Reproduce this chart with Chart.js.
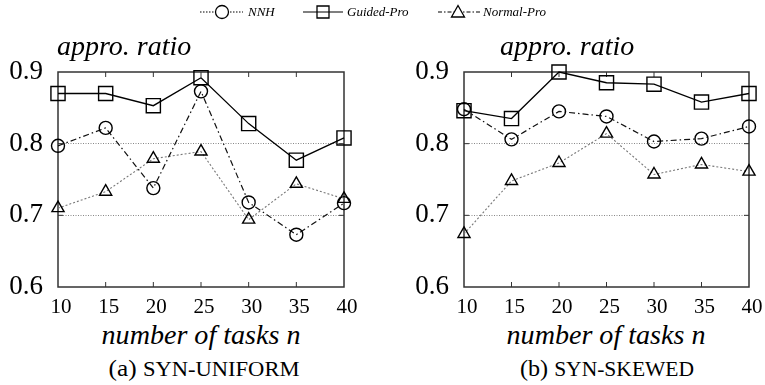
<!DOCTYPE html>
<html>
<head>
<meta charset="utf-8">
<script src="https://cdn.jsdelivr.net/npm/chart.js@4/dist/chart.umd.min.js"></script>
<style>
  body { margin: 0; background: #fff; }
  #wrap { position: relative; width: 765px; height: 385px; overflow: hidden; font-family: "Liberation Serif", "Times New Roman", "DejaVu Serif", serif; color: #000; }
  canvas { position: absolute; }
  .txt { position: absolute; white-space: nowrap; }
  .ytitle { font-style: italic; font-size: 28px; line-height: 28px; top: 32px; }
  .xtitle { font-style: italic; font-size: 27px; line-height: 27px; top: 322px; width: 300px; text-align: center; transform: scaleX(1.04); }
  .cap { font-size: 23px; line-height: 23px; top: 357px; width: 300px; text-align: center; transform: scaleX(1.1); }
  .cap span { font-size: 20.5px; }
</style>
</head>
<body>
<div id="wrap">
  <canvas id="legend" width="765" height="26" style="left:0;top:0"></canvas>
  <canvas id="chartA" width="382" height="320" style="left:0;top:0"></canvas>
  <canvas id="chartB" width="382" height="320" style="left:406px;top:0"></canvas>
  <div class="txt ytitle" style="left:57px">appro. ratio</div>
  <div class="txt ytitle" style="left:500px">appro. ratio</div>
  <div class="txt xtitle" style="left:51px">number of tasks <i>n</i></div>
  <div class="txt xtitle" style="left:456px">number of tasks <i>n</i></div>
  <div class="txt cap" style="left:54px">(a) <span>SYN-UNIFORM</span></div>
  <div class="txt cap" style="left:457px; transform: scaleX(1.05)">(b) <span>SYN-SKEWED</span></div>
</div>
<script>
// number of tasks n
var tasks = [10, 15, 20, 25, 30, 35, 40];
var seriesNames = ['NNH', 'Guided-Pro', 'Normal-Pro'];

// (a) SYN-UNIFORM
var uniformNNH    = [0.797, 0.822, 0.738, 0.873, 0.718, 0.673, 0.717];
var uniformGuided = [0.870, 0.870, 0.853, 0.892, 0.828, 0.777, 0.808];
var uniformNormal = [0.710, 0.733, 0.779, 0.789, 0.694, 0.744, 0.723];

// (b) SYN-SKEWED
var skewedNNH    = [0.848, 0.806, 0.845, 0.838, 0.803, 0.807, 0.824];
var skewedGuided = [0.846, 0.835, 0.900, 0.885, 0.883, 0.858, 0.870];
var skewedNormal = [0.674, 0.748, 0.773, 0.814, 0.757, 0.771, 0.761];

var yTicks = [0.6, 0.7, 0.8, 0.9];
var gridAt = [0.7, 0.8];

var serif = '"Liberation Serif", "Times New Roman", "DejaVu Serif", serif';

// box round the plot and the small inward tick marks
var framePlugin = {
  id: 'frame',
  beforeDatasetsDraw: function(chart) {
    var ctx = chart.ctx, a = chart.chartArea;
    var xs = chart.scales.x, ys = chart.scales.y;
    ctx.save();
    ctx.strokeStyle = '#333';
    ctx.lineWidth = 1.5;
    ctx.setLineDash([]);
    ctx.strokeRect(a.left, a.top, a.right - a.left, a.bottom - a.top);
    ctx.lineWidth = 1;
    ctx.beginPath();
    for (var i = 1; i < tasks.length - 1; i++) {
      var px = xs.getPixelForValue(i);
      ctx.moveTo(px, a.bottom); ctx.lineTo(px, a.bottom - 5);
      ctx.moveTo(px, a.top); ctx.lineTo(px, a.top + 5);
    }
    for (var j = 0; j < gridAt.length; j++) {
      var py = ys.getPixelForValue(gridAt[j]);
      ctx.moveTo(a.left, py); ctx.lineTo(a.left + 5, py);
      ctx.moveTo(a.right, py); ctx.lineTo(a.right - 5, py);
    }
    ctx.stroke();
    ctx.restore();
  }
};

function makeChart(id, nnh, guided, normal, padRight) {
  var ctx = document.getElementById(id).getContext('2d');
  return new Chart(ctx, {
    type: 'line',
    data: {
      labels: tasks.map(String),
      datasets: [{
        label: seriesNames[0],
        data: nnh,
        borderColor: '#111',
        borderWidth: 1.2,
        borderDash: [6, 3, 1.5, 3],
        pointStyle: 'circle',
        pointRadius: 6.5,
        pointBorderWidth: 1.4,
        pointBorderColor: '#000',
        pointBackgroundColor: 'rgba(0,0,0,0)',
        clip: false
      }, {
        label: seriesNames[1],
        data: guided,
        borderColor: '#000',
        borderWidth: 1.3,
        pointStyle: 'rect',
        pointRadius: 10,
        pointBorderWidth: 1.4,
        pointBorderColor: '#000',
        pointBackgroundColor: 'rgba(0,0,0,0)',
        clip: false
      }, {
        label: seriesNames[2],
        data: normal,
        borderColor: '#777',
        borderWidth: 1.1,
        borderDash: [2, 2],
        pointStyle: 'triangle',
        pointRadius: 7,
        pointBorderWidth: 1.4,
        pointBorderColor: '#000',
        pointBackgroundColor: 'rgba(0,0,0,0)',
        clip: false
      }]
    },
    options: {
      responsive: false,
      animation: false,
      layout: { padding: { top: 72, left: 0, right: padRight, bottom: 0 } },
      plugins: { legend: { display: false }, tooltip: { enabled: false }, title: { display: false } },
      elements: { line: { tension: 0 } },
      scales: {
        x: {
          type: 'category',
          offset: false,
          grid: { display: false },
          border: { display: false },
          ticks: { color: '#000', font: { family: serif, size: 21 }, padding: 0, labelOffset: 3, maxRotation: 0, autoSkip: false },
          afterFit: function(s) { s.height = 33; }
        },
        y: {
          min: 0.6,
          max: 0.9,
          afterBuildTicks: function(s) { s.ticks = yTicks.map(function(v) { return { value: v }; }); },
          ticks: {
            color: '#000',
            font: { family: serif, size: 27 },
            padding: 15,
            callback: function(v) { return Number(v).toFixed(1); }
          },
          grid: {
            drawTicks: false,
            lineWidth: 1,
            color: function(c) {
              var v = c.tick ? c.tick.value : 0;
              return (v > 0.65 && v < 0.85) ? '#888' : 'rgba(0,0,0,0)';
            }
          },
          border: { display: false, dash: [1, 1.5] },
          afterFit: function(s) { s.width = 58; }
        }
      }
    },
    plugins: [framePlugin]
  });
}

makeChart('chartA', uniformNNH, uniformGuided, uniformNormal, 38);
makeChart('chartB', skewedNNH, skewedGuided, skewedNormal, 39);

// legend drawn as in the picture: line sample with marker, then name
function drawLegend() {
  var c = document.getElementById('legend');
  var ctx = c.getContext('2d');
  var y = 12;
  var items = [
    { x1: 200, x2: 243, mx: 222, tx: 248, dash: [1.5, 1.5], mark: 'circle' },
    { x1: 303, x2: 343, mx: 323, tx: 347, dash: [], mark: 'rect' },
    { x1: 438, x2: 480, mx: 458, tx: 483, dash: [4, 2, 1.5, 2], mark: 'triangle' }
  ];
  ctx.font = 'italic 13px ' + serif;
  ctx.textBaseline = 'middle';
  ctx.fillStyle = '#000';
  for (var i = 0; i < items.length; i++) {
    var it = items[i];
    ctx.save();
    ctx.strokeStyle = '#000';
    ctx.lineWidth = 1.1;
    ctx.setLineDash(it.dash);
    ctx.beginPath(); ctx.moveTo(it.x1, y); ctx.lineTo(it.x2, y); ctx.stroke();
    ctx.setLineDash([]);
    ctx.lineWidth = 1.3;
    ctx.beginPath();
    if (it.mark === 'circle') {
      ctx.fillStyle = '#fff';
      ctx.arc(it.mx, y, 6.5, 0, Math.PI * 2);
      ctx.fill();
    } else if (it.mark === 'rect') {
      ctx.rect(it.mx - 6, y - 6, 12, 12);
    } else {
      ctx.fillStyle = '#fff';
      ctx.moveTo(it.mx, y - 6.5);
      ctx.lineTo(it.mx + 6.5, y + 5);
      ctx.lineTo(it.mx - 6.5, y + 5);
      ctx.closePath();
      ctx.fill();
    }
    ctx.stroke();
    ctx.restore();
    ctx.fillText(seriesNames[i], it.tx, y + 1);
  }
}
drawLegend();
</script>
</body>
</html>
